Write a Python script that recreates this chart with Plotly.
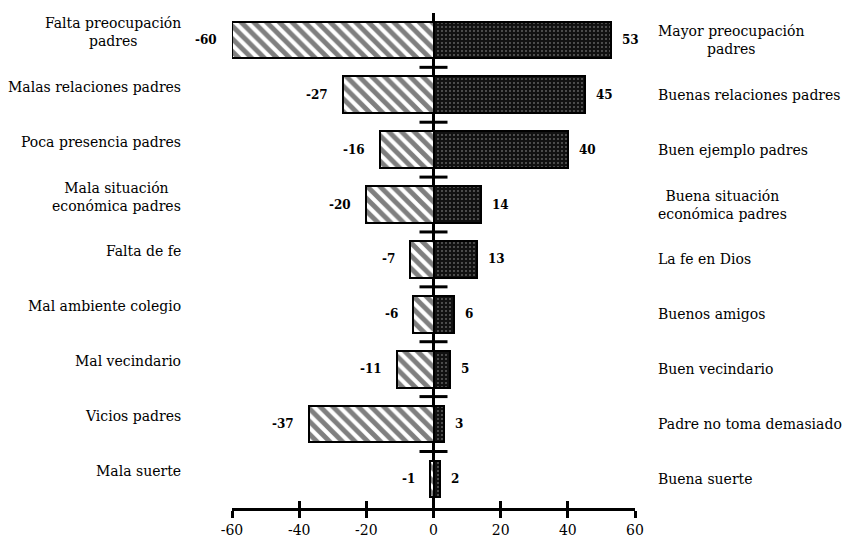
import plotly.graph_objects as go

neg_labels = [
    'Falta preocupación<br>padres', 'Malas relaciones padres', 'Poca presencia padres',
    'Mala situación<br>económica padres', 'Falta de fe', 'Mal ambiente colegio',
    'Mal vecindario', 'Vicios padres', 'Mala suerte',
]
neg_values = [-60, -27, -16, -20, -7, -6, -11, -37, -1]

pos_labels = [
    'Mayor preocupación<br>padres', 'Buenas relaciones padres', 'Buen ejemplo padres',
    'Buena situación<br>económica padres', 'La fe en Dios', 'Buenos amigos',
    'Buen vecindario', 'Padre no toma demasiado', 'Buena suerte',
]
pos_values = [53, 45, 40, 14, 13, 6, 5, 3, 2]

x_ticks = [-60, -40, -20, 0, 20, 40, 60]
x_ticktext = ['-60', '-40', '-20', '0', '20', '40', '60']

SERIF = 'DejaVu Serif'
rows = list(range(len(neg_values)))

fig = go.Figure()
fig.add_trace(go.Bar(
    y=rows, x=neg_values, orientation='h', width=0.67,
    marker=dict(color='white', line=dict(color='black', width=2),
                pattern=dict(shape='\\', fgcolor='black', bgcolor='white', size=9, solidity=0.55)),
    showlegend=False, hoverinfo='skip',
))
fig.add_trace(go.Bar(
    y=rows, x=pos_values, orientation='h', width=0.67,
    marker=dict(color='black', line=dict(color='black', width=2),
                pattern=dict(shape='.', fgcolor='#bbb', bgcolor='#111', size=4, solidity=0.08, fillmode='replace')),
    showlegend=False, hoverinfo='skip',
))
# small cross ticks along the central axis, between rows
fig.add_trace(go.Scatter(
    x=[0] * len(rows), y=[r - 0.5 for r in rows], mode='markers',
    marker=dict(symbol='line-ew', size=20, line=dict(color='black', width=3)),
    showlegend=False, hoverinfo='skip', cliponaxis=False,
))
# invisible trace for the inner tick axis
fig.add_trace(go.Scatter(x=[0], y=[0], xaxis='x2', mode='markers', marker=dict(opacity=0),
                         showlegend=False, hoverinfo='skip'))

for r, v in zip(rows, neg_values):
    fig.add_annotation(x=v, y=r, text=f'<b>{v}</b>', showarrow=False, xanchor='right', xshift=-13,
                       font=dict(family=SERIF, size=12, color='black'))
for r, v in zip(rows, pos_values):
    fig.add_annotation(x=v, y=r, text=f'<b>{v}</b>', showarrow=False, xanchor='left', xshift=9,
                       font=dict(family=SERIF, size=12, color='black'))
for r, t in zip(rows, neg_labels):
    fig.add_annotation(x=-0.122, xref='paper', y=r, text=t, showarrow=False, xanchor='right',
                       align='center', yshift=8, font=dict(family=SERIF, size=14, color='black'))
for r, t in zip(rows, pos_labels):
    fig.add_annotation(x=1.052, xref='paper', y=r, text=t, showarrow=False, xanchor='left',
                       align='center', font=dict(family=SERIF, size=14, color='black'))

fig.update_layout(
    width=852, height=542,
    margin=dict(l=224, r=225, t=5, b=42),
    barmode='relative', bargap=0,
    plot_bgcolor='white', paper_bgcolor='white',
    xaxis=dict(range=[-60, 60], tickvals=x_ticks, ticktext=x_ticktext, ticks='outside', ticklen=7,
               tickwidth=3, tickcolor='black', showline=True, linecolor='black', linewidth=3,
               showgrid=False, zeroline=True, zerolinecolor='black', zerolinewidth=3,
               tickfont=dict(family=SERIF, size=14, color='black')),
    xaxis2=dict(range=[-60, 60], overlaying='x', anchor='y', side='bottom', tickvals=x_ticks,
                ticks='inside', ticklen=7, tickwidth=3, tickcolor='black',
                showticklabels=False, showgrid=False, zeroline=False, showline=False),
    yaxis=dict(range=[8.53, -0.49], visible=False, showgrid=False, zeroline=False),
)

fig.write_html('out.html')
